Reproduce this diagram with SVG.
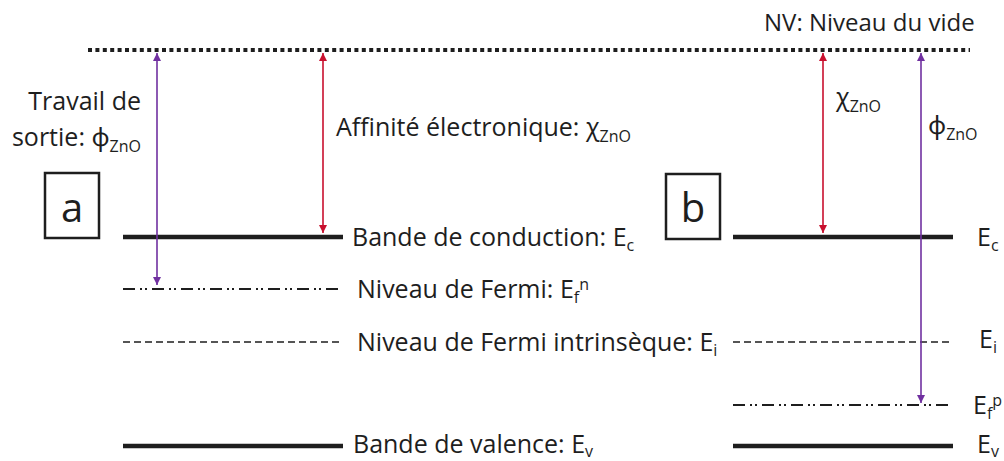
<svg xmlns="http://www.w3.org/2000/svg" width="1004" height="461" viewBox="0 0 1004 461">
<style>
  text { font-family: "Open Sans", "Noto Sans", "DejaVu Sans", sans-serif; fill: #1e1e1e; }
  .lbl { font-size: 25px; }
  .sub { font-size: 16px; }
  .box { fill: none; stroke: #1e1e1e; stroke-width: 2.5; }
  .big { font-size: 40px; text-anchor: middle; }
  .band { stroke: #1e1e1e; stroke-width: 4.5; fill: none; }
  .fermi { stroke: #1e1e1e; stroke-width: 1.8; stroke-dasharray: 12 5 2 3 2 5; fill: none; }
  .intr { stroke: #1e1e1e; stroke-width: 1.5; stroke-dasharray: 7 4; fill: none; }
  .vide { stroke: #1e1e1e; stroke-width: 4; stroke-dasharray: 4 3.4; fill: none; }
  .pur { stroke: #7030A0; stroke-width: 1.6; fill: none; marker-start: url(#ap); marker-end: url(#ap); }
  .red { stroke: #C8102E; stroke-width: 1.6; fill: none; marker-start: url(#ar); marker-end: url(#ar); }
</style>
<defs>
  <marker id="ap" markerUnits="userSpaceOnUse" markerWidth="8" markerHeight="8" viewBox="0 0 8 8" refX="8" refY="4" orient="auto-start-reverse">
    <path d="M0,0 L8,4 L0,8 z" fill="#7030A0"/>
  </marker>
  <marker id="ar" markerUnits="userSpaceOnUse" markerWidth="8" markerHeight="8" viewBox="0 0 8 8" refX="8" refY="4" orient="auto-start-reverse">
    <path d="M0,0 L8,4 L0,8 z" fill="#C8102E"/>
  </marker>
</defs>
<rect width="1004" height="461" fill="#ffffff"/>

<g id="vacuum-level">
  <line class="vide" x1="88" y1="50" x2="970" y2="50"/>
  <text class="lbl" x="764" y="31" style="font-size:24px">NV: Niveau du vide</text>
</g>

<g id="panel-a">
  <g id="box-a">
    <rect class="box" x="45" y="173" width="54" height="65"/>
    <text class="big" x="72" y="222">a</text>
  </g>
  <g id="ec-a">
    <line class="band" x1="123" y1="237" x2="343" y2="237"/>
    <text class="lbl" x="352" y="246">Bande de conduction: E<tspan class="sub" dy="5">c</tspan></text>
  </g>
  <g id="efn-a">
    <line class="fermi" x1="123" y1="289" x2="340" y2="289"/>
    <text class="lbl" x="357" y="298">Niveau de Fermi: E<tspan class="sub" dy="5">f</tspan><tspan class="sub" dy="-13">n</tspan></text>
  </g>
  <g id="ei-a">
    <line class="intr" x1="123" y1="342" x2="343" y2="342"/>
    <text class="lbl" x="357" y="351">Niveau de Fermi intrinsèque: E<tspan class="sub" dy="5">i</tspan></text>
  </g>
  <g id="ev-a">
    <line class="band" x1="123" y1="446" x2="343" y2="446"/>
    <text class="lbl" x="353" y="453">Bande de valence: E<tspan class="sub" dy="4">v</tspan></text>
  </g>
  <g id="label-travail">
    <text class="lbl" x="141" y="110" text-anchor="end">Travail de</text>
    <text class="lbl" x="141" y="146" text-anchor="end">sortie: ϕ<tspan class="sub" dy="6">ZnO</tspan></text>
  </g>
  <g id="label-affinite">
    <text class="lbl" x="336" y="136">Affinité électronique: χ<tspan class="sub" dy="6">ZnO</tspan></text>
  </g>
</g>

<g id="panel-b">
  <g id="box-b">
    <rect class="box" x="666" y="174" width="54" height="65"/>
    <text class="big" x="693" y="222">b</text>
  </g>
  <g id="ec-b">
    <line class="band" x1="733" y1="237" x2="953" y2="237"/>
    <text class="lbl" x="977" y="246">E<tspan class="sub" dy="5">c</tspan></text>
  </g>
  <g id="ei-b">
    <line class="intr" x1="733" y1="342" x2="953" y2="342"/>
    <text class="lbl" x="979" y="348">E<tspan class="sub" dy="5">i</tspan></text>
  </g>
  <g id="efp-b">
    <line class="fermi" x1="733" y1="405" x2="950" y2="405"/>
    <text class="lbl" x="973" y="414">E<tspan class="sub" dy="5">f</tspan><tspan class="sub" dy="-13">p</tspan></text>
  </g>
  <g id="ev-b">
    <line class="band" x1="733" y1="446" x2="953" y2="446"/>
    <text class="lbl" x="977" y="453">E<tspan class="sub" dy="4">v</tspan></text>
  </g>
  <g id="label-chi-b">
    <text class="lbl" x="836" y="106">χ<tspan class="sub" dy="6">ZnO</tspan></text>
  </g>
  <g id="label-phi-b">
    <text class="lbl" x="928" y="134">ϕ<tspan class="sub" dy="6">ZnO</tspan></text>
  </g>
</g>

<g id="connectors">
  <line class="pur" x1="157" y1="53" x2="157" y2="285"/>
  <line class="red" x1="323" y1="53" x2="323" y2="233"/>
  <line class="red" x1="823" y1="53" x2="823" y2="233"/>
  <line class="pur" x1="921" y1="53" x2="921" y2="403"/>
</g>
</svg>
